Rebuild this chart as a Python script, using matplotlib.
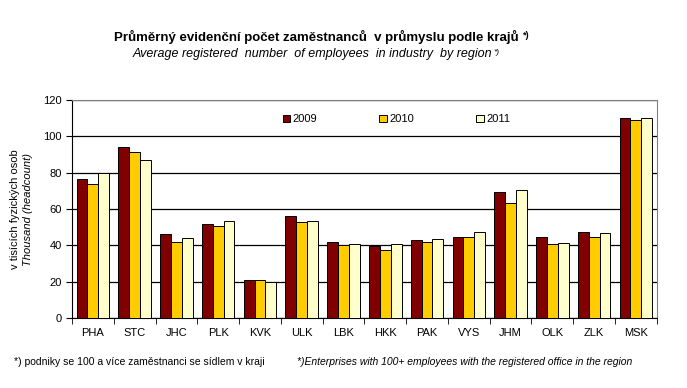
import numpy as np
import matplotlib.pyplot as plt
from matplotlib import font_manager

REGIONS = ["PHA", "STC", "JHC", "PLK", "KVK", "ULK", "LBK", "HKK", "PAK", "VYS", "JHM", "OLK", "ZLK", "MSK"]
YEARS = ["2009", "2010", "2011"]
V2009 = [76.3, 93.9, 46.0, 51.6, 20.7, 56.0, 41.7, 39.8, 42.7, 44.6, 69.2, 44.6, 47.1, 110.4]
V2010 = [73.9, 91.2, 41.7, 50.5, 20.7, 52.7, 40.0, 37.2, 41.7, 44.6, 63.1, 40.6, 44.6, 108.8]
V2011 = [80.0, 86.8, 43.9, 53.2, 20.0, 53.2, 40.6, 40.6, 43.3, 47.1, 70.4, 41.1, 46.6, 110.4]
COLORS = ["#800000", "#FFCC00", "#FFFFCC"]

names = {f.name for f in font_manager.fontManager.ttflist}
FONT = "Liberation Sans Narrow" if "Liberation Sans Narrow" in names else "Liberation Sans"
plt.rcParams["font.family"] = [FONT, "DejaVu Sans"]

fig = plt.figure(figsize=(6.87, 3.88), dpi=100)
ax = fig.add_axes([0.1048, 0.1804, 0.8512, 0.5616])

x = np.arange(len(REGIONS))
w = 0.26
for i, (vals, year) in enumerate(zip([V2009, V2010, V2011], YEARS)):
    ax.bar(x + (i - 1) * w, vals, w, color=COLORS[i], edgecolor="black",
           linewidth=0.7, label=year, zorder=3)

ax.set_xlim(-0.5, len(REGIONS) - 0.5)
ax.set_ylim(0, 120)
ax.set_yticks(range(0, 121, 20))
ax.yaxis.grid(True, color="black", linewidth=0.9, zorder=0)
ax.set_xticks(x)
ax.set_xticklabels(REGIONS, fontsize=8)
ax.set_xticks(np.arange(-0.5, len(REGIONS), 1), minor=True)
ax.tick_params(axis="x", which="major", length=0, pad=7)
ax.tick_params(axis="x", which="minor", length=4, direction="out")
ax.tick_params(axis="y", labelsize=8, length=4, direction="out")
for s in ["top", "right"]:
    ax.spines[s].set_color("#808080")
for s in ["left", "bottom"]:
    ax.spines[s].set_color("black")

ax.legend(loc="upper center", bbox_to_anchor=(0.555, 0.98), ncol=3, frameon=False,
          fontsize=8, handlelength=0.7, handleheight=0.7, handletextpad=0.2,
          columnspacing=5.6)

# titles with small superscript "*)" placed right after the text
title = fig.text(0.46, 0.905, "Průměrný evidenční počet zaměstnanců  v průmyslu podle krajů",
                 ha="center", va="center", fontsize=9.5, fontweight="bold")
sub = fig.text(0.455, 0.862, "Average registered  number  of employees  in industry  by region",
               ha="center", va="center", fontsize=9, style="italic")
renderer = fig.canvas.get_renderer()
inv = fig.transFigure.inverted()
t_end = inv.transform(title.get_window_extent(renderer))[1]
s_end = inv.transform(sub.get_window_extent(renderer))[1]
fig.text(t_end[0] + 0.006, t_end[1] - 0.004, "*)", ha="left", va="top", fontsize=6.5, fontweight="bold")
fig.text(s_end[0] + 0.001, s_end[1] - 0.004, "*)", ha="left", va="top", fontsize=6, style="italic")

fig.text(0.022, 0.46, "v tisících fyzických osob", rotation=90, ha="center", va="center", fontsize=8)
fig.text(0.041, 0.46, "Thousand (headcount)", rotation=90, ha="center", va="center",
         fontsize=8, style="italic")

fig.text(0.02, 0.067, "*) podniky se 100 a více zaměstnanci se sídlem v kraji",
         ha="left", va="center", fontsize=7.5)
fig.text(0.432, 0.067, "*)Enterprises with 100+ employees with the registered office in the region",
         ha="left", va="center", fontsize=7.5, style="italic")

fig.savefig("out.png", dpi=100)
